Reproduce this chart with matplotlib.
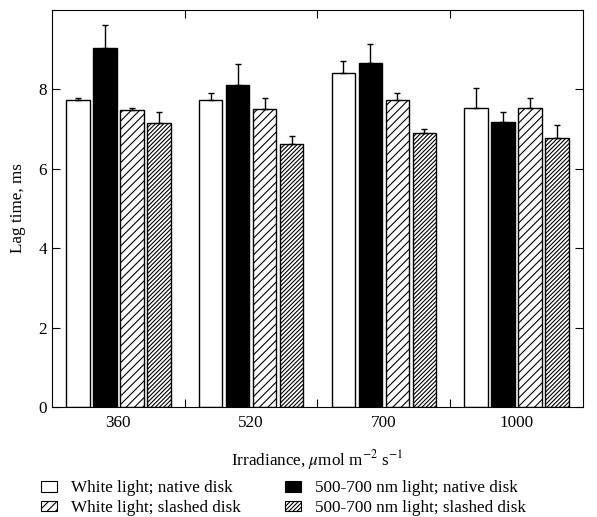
import numpy as np
import matplotlib.pyplot as plt
from matplotlib.patches import Patch

plt.rcParams['font.family'] = ['Liberation Serif', 'DejaVu Serif']
plt.rcParams['mathtext.fontset'] = 'stix'
plt.rcParams['hatch.linewidth'] = 0.8

# data
irradiance = ['360', '520', '700', '1000']
series = ['White light; native disk', '500-700 nm light; native disk',
          'White light; slashed disk', '500-700 nm light; slashed disk']
white_native = [7.72, 7.74, 8.42, 7.54]
green_native = [9.03, 8.11, 8.66, 7.18]
white_slashed = [7.49, 7.50, 7.73, 7.52]
green_slashed = [7.14, 6.63, 6.91, 6.77]
white_native_err = [0.05, 0.17, 0.29, 0.49]
green_native_err = [0.59, 0.54, 0.47, 0.25]
white_slashed_err = [0.03, 0.27, 0.19, 0.26]
green_slashed_err = [0.29, 0.20, 0.09, 0.32]

values = [white_native, green_native, white_slashed, green_slashed]
errors = [white_native_err, green_native_err, white_slashed_err, green_slashed_err]
faces = ['white', 'black', 'white', 'white']
hatches = [None, None, '////', '////////']

fig = plt.figure(figsize=(5.97, 5.17), dpi=100)
ax = fig.add_axes([0.0871, 0.2128, 0.8894, 0.768])

centers = np.arange(len(irradiance)) + 0.5
pitch = 0.203
width = 0.177
for i in range(4):
    x = centers + (i - 1.5) * pitch
    ax.bar(x, values[i], width, color=faces[i], edgecolor='black',
           hatch=hatches[i], linewidth=1.0, zorder=2)
    ax.errorbar(x, values[i], yerr=[np.zeros(4), errors[i]], fmt='none',
                ecolor='black', elinewidth=1.0, capsize=2.5, capthick=1.0, zorder=3)

ax.set_xlim(0, 4)
ax.set_ylim(0, 10)
ax.set_yticks([0, 2, 4, 6, 8])
ax.set_xticks([1, 2, 3])
ax.set_xticklabels([])
ax.set_xticks(centers, minor=True)
ax.set_xticklabels(irradiance, minor=True)
ax.tick_params(axis='x', which='minor', length=0, pad=6, labelsize=12.3)
ax.tick_params(axis='x', which='major', direction='in', top=True, length=6)
ax.tick_params(axis='y', direction='in', right=True, length=6, labelsize=12.3)

ax.set_ylabel('Lag time, ms', fontsize=12.3, labelpad=9)
ax.set_xlabel('Irradiance, $\\mu$mol m$^{-2}$ s$^{-1}$', fontsize=12.3, labelpad=12)

handles = [Patch(facecolor=faces[i], edgecolor='black', hatch=hatches[i], linewidth=0.8)
           for i in range(4)]
order = [0, 2, 1, 3]
fig.legend([handles[k] for k in order], [series[k] for k in order],
           loc='lower left', bbox_to_anchor=(0.069, 0.002), ncol=2, frameon=False,
           fontsize=12.3, handlelength=0.95, handleheight=0.6, labelspacing=0.22,
           columnspacing=2.6, handletextpad=0.8, borderpad=0, borderaxespad=0)

fig.savefig('out.png', dpi=100)
